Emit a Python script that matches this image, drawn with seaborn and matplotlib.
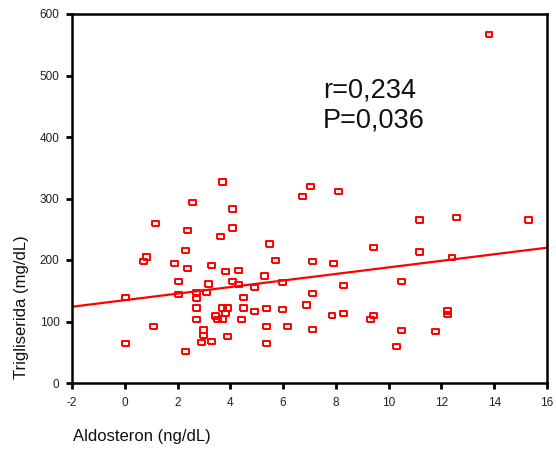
import matplotlib
matplotlib.use("Agg")
import matplotlib.pyplot as plt
import seaborn as sns
import pandas as pd

aldosteron = [13.80, 3.71, 2.57, 4.09, 6.72, 7.04, 8.10, 1.17, 2.38, 4.09,
              3.63, 5.49, 2.31, 0.83, 0.72, 1.89, 2.38, 3.29, 3.82, 4.32,
              5.72, 7.12, 7.92, 2.04, 3.18, 4.09, 4.32, 5.30, 5.98, 0.03,
              2.04, 2.73, 2.73, 3.10, 4.92, 4.51, 2.73, 3.71, 3.90, 4.51,
              5.38, 5.98, 4.92, 6.88, 3.82, 3.45, 3.52, 3.71, 2.73, 4.43,
              1.10, 5.38, 6.17, 2.99, 2.99, 3.90, 2.91, 3.29, 0.03, 5.38,
              2.31, 7.12, 7.12, 11.17, 12.58, 15.31, 9.44, 11.17, 12.40, 10.50,
              8.30, 7.85, 8.30, 9.44, 9.30, 12.24, 12.24, 10.50, 11.78, 10.30]
trigliserida = [567, 327, 294, 283, 303, 319, 312, 259, 248, 252,
                238, 226, 215, 205, 197, 194, 186, 191, 181, 183,
                199, 197, 194, 165, 161, 165, 160, 174, 163, 139,
                144, 147, 137, 147, 155, 139, 122, 122, 122, 122,
                121, 119, 116, 127, 113, 109, 103, 104, 103, 103,
                92, 92, 92, 86, 77, 75, 66, 67, 64, 64,
                51, 87, 145, 265, 269, 265, 220, 213, 204, 165,
                159, 110, 113, 110, 103, 117, 112, 85, 84, 59]

fit_x = [-2, 16]
fit_y = [124, 220]

x_ticks = [-2, 0, 2, 4, 6, 8, 10, 12, 14, 16]
y_ticks = [0, 100, 200, 300, 400, 500, 600]
stats_lines = ["r=0,234", "P=0,036"]

sns.set_style("white")
plt.rcParams['font.family'] = ['Liberation Sans', 'DejaVu Sans']

fig = plt.figure(figsize=(5.56, 4.51), dpi=100)
ax = fig.add_axes([72/556, 68/451, 475/556, 369/451])

df = pd.DataFrame({"x": aldosteron, "y": trigliserida})
rect = [(-1.3, -1), (1.3, -1), (1.3, 1), (-1.3, 1), (-1.3, -1)]
sns.scatterplot(data=df, x="x", y="y", ax=ax, marker=rect, s=24,
                facecolors='none', edgecolors='red', linewidths=1.4, zorder=3)
sns.lineplot(x=fit_x, y=fit_y, ax=ax, color='red', linewidth=1.6, zorder=2)

ax.set_xlim(-2, 16)
ax.set_ylim(0, 600)
ax.set_xticks(x_ticks)
ax.set_yticks(y_ticks)
ax.set_xticklabels([str(v) for v in x_ticks], fontsize=8.5)
ax.set_yticklabels([str(v) for v in y_ticks], fontsize=8.5)
ax.tick_params(axis='both', direction='out', length=4, width=2, color='black',
               labelcolor='#222222', bottom=True, left=True)
ax.tick_params(axis='x', pad=6)
ax.tick_params(axis='y', pad=5)
for sp in ax.spines.values():
    sp.set_visible(True)
    sp.set_color('black')
    sp.set_linewidth(1.8)
ax.set_xlabel("")
ax.set_ylabel("")

ax.text(7.51, 465, stats_lines[0], fontsize=19.5, va='baseline', ha='left', color='#111111')
ax.text(7.51, 416, stats_lines[1], fontsize=19.5, va='baseline', ha='left', color='#111111')

fig.text(73/556, 1 - 437/451, "Aldosteron (ng/dL)", fontsize=12, ha='left', va='center', color='#111111')
fig.text(22/556, 1 - 379/451, "Trigliserida (mg/dL)", fontsize=12, rotation=90,
         ha='center', va='bottom', color='#111111')

fig.savefig("out.png", dpi=100)
